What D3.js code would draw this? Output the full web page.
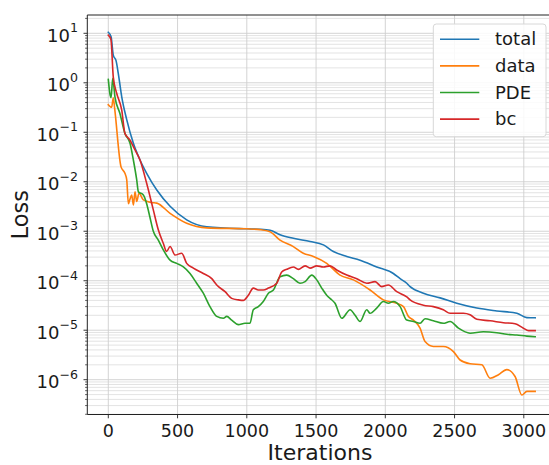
<!DOCTYPE html>
<html>
<head>
<meta charset="utf-8">
<script src="https://cdn.jsdelivr.net/npm/d3@7/dist/d3.min.js"></script>
<style>
  html, body { margin: 0; padding: 0; background: #fff; }
  svg { display: block; font-family: "DejaVu Sans", sans-serif; }
</style>
</head>
<body>
<svg id="chart" width="549" height="465"></svg>
<script>
// ---- data (iteration, loss) ----
const seriesNames = ["total", "data", "PDE", "bc"];
const seriesColors = ["#1f77b4", "#ff7f0e", "#2ca02c", "#d62728"];

const totalLoss = [
  [0, 10.5], [20, 8.5], [36, 3.6], [56, 2.8], [72, 1.55], [97, 0.52], [133, 0.18],
  [181, 0.06], [229, 0.0275], [277, 0.0148], [350, 0.0068], [446, 0.0032],
  [566, 0.0017], [711, 0.00123], [1000, 0.00112], [1096, 0.0011], [1168, 0.00105],
  [1240, 8.5e-4], [1336, 7.2e-4], [1457, 6.2e-4], [1553, 5.3e-4], [1625, 3.9e-4],
  [1722, 3.1e-4], [1818, 2.6e-4], [1938, 1.9e-4], [2058, 1.4e-4], [2107, 1.1e-4],
  [2155, 8.9e-5], [2179, 7.6e-5], [2275, 5.6e-5], [2396, 4.5e-5], [2516, 3.5e-5],
  [2661, 2.8e-5], [2805, 2.45e-5], [2950, 2.2e-5], [3022, 1.8e-5], [3082, 1.78e-5]
];

const dataLoss = [
  [0, 0.36], [24, 0.32], [36, 0.5], [46, 0.3], [92, 0.02], [120, 0.0148], [133, 0.011],
  [145, 0.0036], [157, 0.0045], [169, 0.0054], [181, 0.0034], [193, 0.0063],
  [205, 0.004], [222, 0.0059], [253, 0.0043], [313, 0.0038], [350, 0.0037],
  [446, 0.0023], [566, 0.00145], [711, 0.00117], [1000, 0.00112], [1096, 0.00108],
  [1168, 9.8e-4], [1240, 6.6e-4], [1336, 4.9e-4], [1408, 3.6e-4], [1481, 3.1e-4],
  [1577, 2.25e-4], [1673, 1.3e-4], [1770, 1.04e-4], [1890, 6.5e-5], [1986, 4.1e-5],
  [2083, 3.5e-5], [2131, 3.0e-5], [2167, 1.9e-5], [2203, 1.6e-5], [2251, 1.1e-5],
  [2287, 5.9e-6], [2347, 4.7e-6], [2419, 4.7e-6], [2492, 3.7e-6], [2540, 2.5e-6],
  [2612, 2.1e-6], [2697, 2.0e-6], [2757, 1.07e-6], [2817, 1.26e-6], [2877, 1.6e-6],
  [2937, 1.16e-6], [2986, 4.9e-7], [3022, 5.8e-7], [3082, 5.8e-7]
];

const pdeLoss = [
  [0, 1.17], [14, 0.55], [20, 0.5], [32, 1.23], [48, 0.52], [84, 0.24], [120, 0.095],
  [157, 0.06], [181, 0.0275], [205, 0.011], [217, 0.0063], [253, 0.0054],
  [277, 0.0036], [301, 0.0019], [325, 1.0e-3], [361, 6.6e-4], [397, 4.2e-4],
  [446, 2.6e-4], [494, 2.24e-4], [542, 1.9e-4], [590, 1.4e-4], [638, 8.9e-5],
  [686, 5.6e-5], [734, 3.0e-5], [783, 1.9e-5], [831, 1.74e-5], [855, 1.9e-5],
  [891, 1.6e-5], [939, 1.3e-5], [987, 1.38e-5], [1023, 1.38e-5], [1047, 2.6e-5],
  [1083, 3.0e-5], [1119, 3.8e-5], [1156, 5.6e-5], [1192, 6.5e-5], [1240, 1.2e-4],
  [1288, 1.3e-4], [1336, 1.1e-4], [1384, 8.9e-5], [1421, 9.6e-5], [1469, 1.3e-4],
  [1505, 1.04e-4], [1541, 7.1e-5], [1577, 5.1e-5], [1601, 4.4e-5], [1637, 3.5e-5],
  [1686, 1.74e-5], [1746, 2.6e-5], [1782, 2.0e-5], [1818, 1.5e-5], [1866, 2.6e-5],
  [1890, 2.2e-5], [1938, 2.8e-5], [1986, 3.8e-5], [2022, 3.5e-5], [2058, 3.8e-5],
  [2107, 3.0e-5], [2155, 1.6e-5], [2203, 1.5e-5], [2251, 1.38e-5], [2287, 1.7e-5],
  [2347, 1.55e-5], [2419, 1.38e-5], [2468, 1.5e-5], [2528, 1.1e-5], [2612, 8.7e-6],
  [2708, 9.3e-6], [2805, 8.9e-6], [2877, 8.3e-6], [2950, 8.0e-6], [3022, 7.6e-6],
  [3082, 7.4e-6]
];

const bcLoss = [
  [0, 9.2], [19, 7.5], [36, 1.3], [60, 0.62], [97, 0.28], [120, 0.095], [157, 0.069],
  [193, 0.044], [229, 0.0275], [277, 0.0093], [325, 0.0027], [361, 1.07e-3],
  [397, 5.7e-4], [421, 3.9e-4], [446, 4.9e-4], [482, 3.3e-4], [530, 3.6e-4],
  [566, 2.24e-4], [614, 1.8e-4], [686, 1.4e-4], [747, 1.1e-4], [783, 8.2e-5],
  [843, 6.0e-5], [891, 4.4e-5], [939, 4.1e-5], [975, 4.0e-5], [1011, 5.1e-5],
  [1047, 7.1e-5], [1083, 6.5e-5], [1119, 6.5e-5], [1156, 7.1e-5], [1216, 8.9e-5],
  [1252, 1.5e-4], [1288, 1.7e-4], [1336, 1.9e-4], [1372, 1.7e-4], [1421, 2.0e-4],
  [1457, 1.8e-4], [1505, 2.0e-4], [1553, 1.9e-4], [1601, 2.0e-4], [1649, 1.65e-4],
  [1722, 1.3e-4], [1794, 1.1e-4], [1866, 8.9e-5], [1926, 9.6e-5], [1974, 7.6e-5],
  [2022, 8.2e-5], [2083, 6.0e-5], [2155, 4.7e-5], [2179, 4.1e-5], [2275, 3.2e-5],
  [2347, 3.0e-5], [2419, 2.6e-5], [2468, 2.2e-5], [2564, 2.2e-5], [2612, 2.05e-5],
  [2661, 1.66e-5], [2757, 1.55e-5], [2853, 1.42e-5], [2937, 1.35e-5], [2997, 1.1e-5],
  [3034, 9.8e-6], [3082, 9.8e-6]
];

const xTickValues = [0, 500, 1000, 1500, 2000, 2500, 3000];
const yTickExponents = [-6, -5, -4, -3, -2, -1, 0, 1];
const xLabel = "Iterations";
const yLabel = "Loss";

// ---- layout ----
const svg = d3.select("#chart");
const plotLeft = 87.3, plotTop = 15, plotBottom = 414.5, plotRight = 560;

const x = d3.scaleLinear().domain([0, 3000]).range([108.3, 523.8]);
const y = d3.scaleLog().domain([1e-6, 10]).range([379.7, 33.3]);

const allSeries = [totalLoss, dataLoss, pdeLoss, bcLoss];

// grid
const gridG = svg.append("g");
const yMin = y.invert(plotBottom), yMax = y.invert(plotTop);
const minorVals = [];
for (let e = -8; e <= 2; e++) {
  for (let m = 2; m <= 9; m++) {
    const v = m * Math.pow(10, e);
    if (v > yMin && v < yMax) minorVals.push(v);
  }
}
const majorVals = yTickExponents.map(e => Math.pow(10, e));

gridG.selectAll("line.ymin").data(minorVals).enter().append("line")
  .attr("x1", plotLeft).attr("x2", plotRight)
  .attr("y1", d => y(d)).attr("y2", d => y(d))
  .attr("stroke", "#dcdcdc").attr("stroke-width", 0.8);
gridG.selectAll("line.ymaj").data(majorVals).enter().append("line")
  .attr("x1", plotLeft).attr("x2", plotRight)
  .attr("y1", d => y(d)).attr("y2", d => y(d))
  .attr("stroke", "#cfcfcf").attr("stroke-width", 0.9);
gridG.selectAll("line.xg").data(xTickValues).enter().append("line")
  .attr("x1", d => x(d)).attr("x2", d => x(d))
  .attr("y1", plotTop).attr("y2", plotBottom)
  .attr("stroke", "#cfcfcf").attr("stroke-width", 0.9);

// lines
const line = d3.line().x(d => x(d[0])).y(d => y(d[1])).curve(d3.curveMonotoneX);
allSeries.forEach((s, i) => {
  svg.append("path").datum(s)
    .attr("d", line)
    .attr("fill", "none")
    .attr("stroke", seriesColors[i])
    .attr("stroke-width", 1.6)
    .attr("stroke-linejoin", "round")
    .attr("stroke-linecap", "square");
});

// spines
svg.append("line").attr("x1", plotLeft).attr("x2", plotLeft).attr("y1", plotTop).attr("y2", plotBottom)
  .attr("stroke", "#222").attr("stroke-width", 1);
svg.append("line").attr("x1", plotLeft).attr("x2", plotRight).attr("y1", plotBottom).attr("y2", plotBottom)
  .attr("stroke", "#222").attr("stroke-width", 1);
svg.append("line").attr("x1", plotLeft).attr("x2", plotRight).attr("y1", plotTop).attr("y2", plotTop)
  .attr("stroke", "#222").attr("stroke-width", 1);

// x ticks
const xt = svg.append("g");
xt.selectAll("line").data(xTickValues).enter().append("line")
  .attr("x1", d => x(d)).attr("x2", d => x(d))
  .attr("y1", plotBottom).attr("y2", plotBottom + 3.8)
  .attr("stroke", "#222").attr("stroke-width", 0.9);
xt.selectAll("text").data(xTickValues).enter().append("text")
  .attr("x", d => x(d)).attr("y", 437.3)
  .attr("text-anchor", "middle")
  .attr("font-size", 17.5).attr("fill", "#1a1a1a")
  .text(d => String(d));

// y ticks
const yt = svg.append("g");
yt.selectAll("line.mn").data(minorVals).enter().append("line")
  .attr("x1", plotLeft - 2.2).attr("x2", plotLeft)
  .attr("y1", d => y(d)).attr("y2", d => y(d))
  .attr("stroke", "#222").attr("stroke-width", 0.7);
yt.selectAll("line.mj").data(majorVals).enter().append("line")
  .attr("x1", plotLeft - 3.8).attr("x2", plotLeft)
  .attr("y1", d => y(d)).attr("y2", d => y(d))
  .attr("stroke", "#222").attr("stroke-width", 0.9);
const ylab = yt.selectAll("text").data(yTickExponents).enter().append("text")
  .attr("x", 78).attr("y", e => y(Math.pow(10, e)) + 8.3)
  .attr("text-anchor", "end")
  .attr("fill", "#1a1a1a");
ylab.append("tspan").attr("font-size", 18).text("10");
ylab.append("tspan").attr("font-size", 12.6).attr("dy", -9.3)
  .text(e => (e < 0 ? "\u2212" + Math.abs(e) : String(e)));

// axis labels
svg.append("text").attr("x", 320).attr("y", 459.5)
  .attr("text-anchor", "middle").attr("font-size", 22).attr("fill", "#1a1a1a")
  .text(xLabel);
svg.append("text")
  .attr("transform", `translate(28,${(plotTop + plotBottom) / 2}) rotate(-90)`)
  .attr("text-anchor", "middle").attr("font-size", 22.5).attr("fill", "#1a1a1a")
  .text(yLabel);

// legend
const lg = svg.append("g");
lg.append("rect").attr("x", 433.3).attr("y", 24).attr("width", 112.7).attr("height", 112.7)
  .attr("rx", 3).attr("fill", "#ffffff").attr("fill-opacity", 0.85)
  .attr("stroke", "#d8d8d8").attr("stroke-width", 1);
seriesNames.forEach((name, i) => {
  const cy = 39.3 + i * 26.6;
  lg.append("line").attr("x1", 440).attr("x2", 479.3).attr("y1", cy).attr("y2", cy)
    .attr("stroke", seriesColors[i]).attr("stroke-width", 1.6);
  lg.append("text").attr("x", 495).attr("y", cy + 6)
    .attr("font-size", 18).attr("fill", "#1a1a1a").text(name);
});
</script>
</body>
</html>
